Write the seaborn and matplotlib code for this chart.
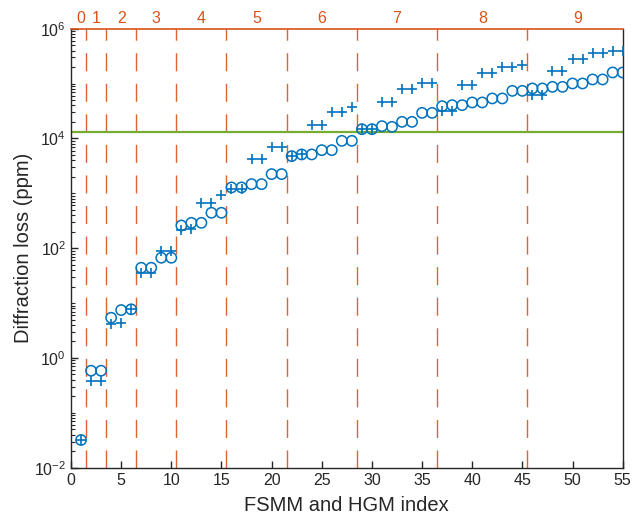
import numpy as np
import pandas as pd
import seaborn as sns
import matplotlib.pyplot as plt
from matplotlib.ticker import LogLocator, NullFormatter

# mode index 1..55
index = list(range(1, 56))

# circles: FSMM diffraction loss (ppm)
fsmm_loss = [0.032, 0.585, 0.585, 5.4, 7.46, 7.7, 44, 44, 67, 67,
             259, 290, 290, 442, 442, 1280, 1280, 1470, 1470, 2240,
             2240, 4760, 5110, 5110, 6120, 6120, 9040, 9040, 14760, 14760,
             16750, 16260, 20050, 20050, 29250, 29250, 38750, 40450, 40450, 45290,
             45290, 53560, 53560, 73650, 73650, 81440, 81440, 87100, 87100, 100400,
             100400, 118800, 118800, 159300, 159300]

# pluses: HGM diffraction loss (ppm)
hgm_loss = [0.032, 0.385, 0.385, 4.14, 4.38, 7.7, 35.6, 35.6, 88.5, 88.5,
            214, 220, 655, 671, 927, 1178, 1178, 4142, 4142, 6855,
            6855, 4760, 5110, 17460, 17460, 30530, 30530, 37650, 14760, 14760,
            46420, 46420, 78140, 78140, 100400, 100400, 31840, 31840, 93500, 93500,
            156600, 156600, 201500, 201500, 216300, 61480, 61480, 170300, 170300, 278000,
            278000, 362300, 362300, 394400, 394400]

group_bounds = [1.5, 3.5, 6.5, 10.5, 15.5, 21.5, 28.5, 36.5, 45.5]
group_labels = ["0", "1", "2", "3", "4", "5", "6", "7", "8", "9"]
group_centers = [1, 2.5, 5, 8.5, 13, 18.5, 25, 32.5, 41, 50.5]
threshold = 1.33e4

blue = "#0072BD"
orange = "#D95319"
green = "#77AC30"
dark = "#262626"

sns.set_style("ticks")
plt.rcParams["font.family"] = ["Liberation Sans", "DejaVu Sans"]
plt.rcParams["mathtext.default"] = "regular"

df = pd.DataFrame({"idx": index, "fsmm": fsmm_loss, "hgm": hgm_loss})

fig = plt.figure(figsize=(6.42, 5.16), dpi=100)
ax = fig.add_axes([0.1106, 0.0936, 0.8593, 0.8508])

for b in group_bounds:
    ax.axvline(b, color=orange, lw=1, alpha=0.9, linestyle=(0, (13, 9)), zorder=1)
ax.axhline(threshold, color=green, lw=1.6, zorder=1)

sns.scatterplot(data=df, x="idx", y="fsmm", ax=ax, marker="o", s=55,
                facecolors="none", edgecolor=blue, linewidth=1.1, zorder=3)
sns.scatterplot(data=df, x="idx", y="hgm", ax=ax, marker="+", s=55,
                color=blue, linewidth=1.2, zorder=3)

ax.set_yscale("log")
ax.set_xlim(0, 55)
ax.set_ylim(1e-2, 1e6)
ax.set_xticks(range(0, 56, 5))
ax.set_yticks([1e-2, 1e0, 1e2, 1e4, 1e6])
ax.yaxis.set_minor_locator(LogLocator(base=10, subs=np.arange(1, 10), numticks=20))
ax.yaxis.set_minor_formatter(NullFormatter())

ax.tick_params(axis="both", which="both", direction="in", colors=dark,
               labelsize=11.5, top=False, right=False)
ax.tick_params(axis="both", which="major", length=5, width=1)
ax.tick_params(axis="y", which="minor", length=3, width=0.8)

for side in ["left", "bottom", "right"]:
    ax.spines[side].set_color(dark)
    ax.spines[side].set_linewidth(1)
ax.spines["top"].set_color(orange)
ax.spines["top"].set_linewidth(1.2)

for c, lab in zip(group_centers, group_labels):
    ax.text(c, 1.006, lab, transform=ax.get_xaxis_transform(), ha="center",
            va="bottom", color=orange, fontsize=11.5)

ax.set_xlabel("FSMM and HGM index", fontsize=14.5, color=dark, labelpad=6)
ax.set_ylabel("Diffraction loss (ppm)", fontsize=14.5, color=dark, labelpad=1)

fig.savefig("out.png", dpi=100)
plt.close(fig)
